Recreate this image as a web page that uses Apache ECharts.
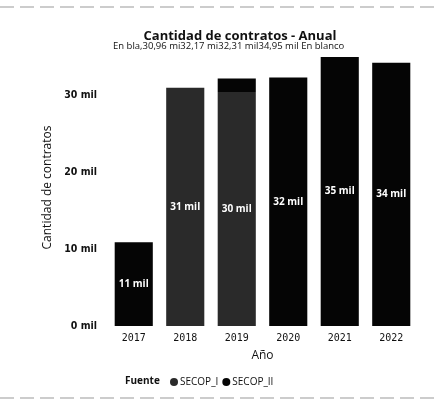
<!DOCTYPE html>
<html>
<head>
<meta charset="utf-8">
<script src="https://cdn.jsdelivr.net/npm/echarts@6/dist/echarts.min.js"></script>
<style>
  html, body { margin: 0; padding: 0; background: #fff; }
  #chart { width: 438px; height: 403px; }
</style>
</head>
<body>
<div id="chart"></div>
<script>
// datos (miles de contratos)
const years = ['2017', '2018', '2019', '2020', '2021', '2022']
const secopI = [0, 30.96, 30.4, 0, 0, 0]
const secopII = [10.9, 0, 1.77, 32.31, 34.95, 34.2]
const yTicks = [0, 10, 20, 30]
const totalsRow = 'En bla,30,96 mi32,17 mi32,31 mil34,95 mil En blanco'

const chart = echarts.init(document.getElementById('chart'))

function insideLabel(p) {
  return p.value >= 3 ? Math.round(p.value) + ' mil' : ''
}

const labelStyle = {
  show: true,
  position: 'inside',
  color: '#fff',
  fontSize: 10,
  fontWeight: 'bold',
  fontFamily: 'Open Sans',
  formatter: insideLabel,
}

chart.setOption({
  animation: false,
  title: {
    text: 'Cantidad de contratos - Anual',
    left: 235,
    textAlign: 'center',
    top: 25,
    textStyle: { fontSize: 13, fontWeight: 'bold', color: '#111', fontFamily: 'Open Sans' },
  },
  graphic: [
    {
      type: 'text', left: 125, top: 376,
      style: { text: 'Fuente', fontSize: 10, fontWeight: 'bold', fill: '#111', fontFamily: 'Open Sans' },
    },
    {
      type: 'text', left: 113, top: 41,
      style: { text: totalsRow, fontSize: 9.5, fill: '#111', fontFamily: 'Open Sans' },
    },
    {
      type: 'line', shape: { x1: 0, y1: 7, x2: 438, y2: 7 },
      style: { stroke: '#999', lineWidth: 1, lineDash: [14, 6] },
    },
    {
      type: 'line', shape: { x1: 0, y1: 398, x2: 438, y2: 398 },
      style: { stroke: '#999', lineWidth: 1, lineDash: [14, 6] },
    },
  ],
  legend: {
    left: 165,
    top: 372,
    icon: 'circle',
    itemWidth: 8,
    itemHeight: 8,
    itemGap: 4,
    textStyle: { fontSize: 10, color: '#111', fontFamily: 'Open Sans', padding: [0, 0, 0, -3] },
    data: ['SECOP_I', 'SECOP_II'],
  },
  grid: { left: 108, right: 21, top: 49, bottom: 77 },
  xAxis: {
    type: 'category',
    data: years,
    name: 'Año',
    nameLocation: 'middle',
    nameGap: 24,
    nameTextStyle: { fontSize: 12, color: '#111', fontFamily: 'Open Sans' },
    axisLine: { show: false },
    axisTick: { show: false },
    axisLabel: { fontSize: 10, color: '#111', margin: 7, fontFamily: 'DejaVu Sans Mono' },
  },
  yAxis: {
    type: 'value',
    min: 0,
    max: 36,
    interval: 10,
    name: 'Cantidad de contratos',
    nameLocation: 'middle',
    nameGap: 46,
    nameTextStyle: { fontSize: 12, color: '#111', fontFamily: 'Open Sans' },
    splitLine: { show: false },
    axisLabel: {
      fontSize: 10.5, color: '#111', fontWeight: 'bold', margin: 11,
      fontFamily: 'DejaVu Sans Condensed',
      showMaxLabel: false,
      formatter: v => (yTicks.includes(v) ? v + ' mil' : ''),
    },
  },
  series: [
    {
      name: 'SECOP_I',
      type: 'bar',
      stack: 'total',
      data: secopI,
      barCategoryGap: '26%',
      itemStyle: { color: '#2a2a2a' },
      label: labelStyle,
    },
    {
      name: 'SECOP_II',
      type: 'bar',
      stack: 'total',
      data: secopII,
      barCategoryGap: '26%',
      itemStyle: { color: '#050505' },
      label: labelStyle,
    },
  ],
})
</script>
</body>
</html>
